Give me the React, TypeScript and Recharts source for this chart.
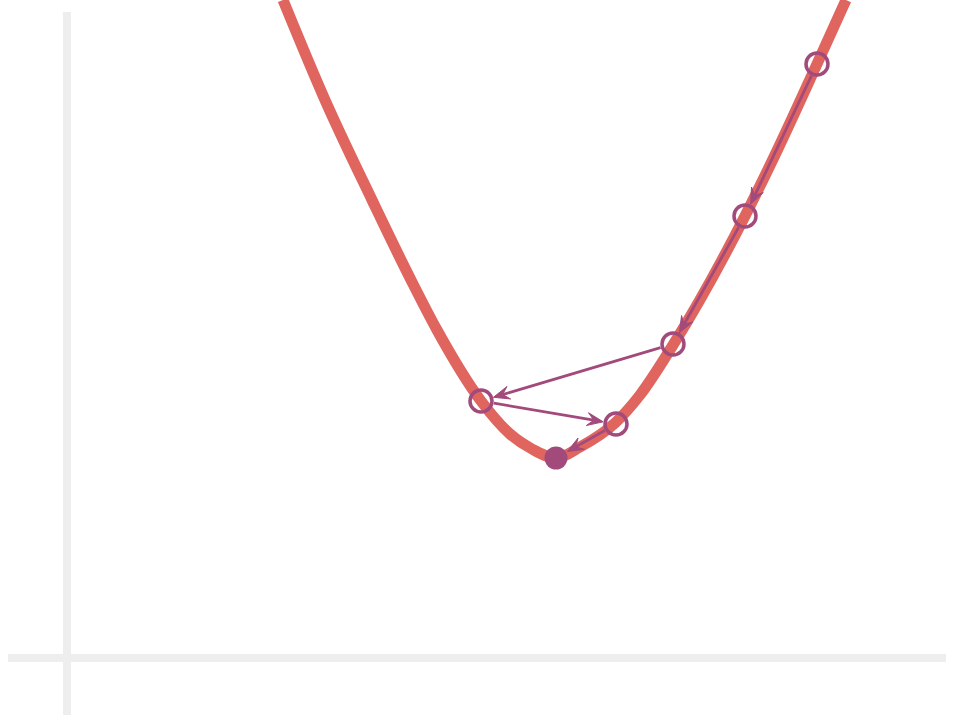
import { ComposedChart, Line, Scatter, XAxis, YAxis, ReferenceLine } from 'recharts';

// loss curve (x = parameter, y = loss)
const curveX = [2.16, 2.58, 3.05, 3.44, 3.70, 4.14, 4.43, 4.65, 4.89, 5.13, 5.48, 5.73, 6.06, 6.78, 7.07, 7.50, 7.79];
const curveY = [6.58, 5.58, 4.58, 3.78, 3.28, 2.57, 2.24, 2.09, 2.00, 2.11, 2.35, 2.63, 3.13, 4.42, 5.01, 5.94, 6.58];

// gradient descent steps, last one is the minimum
const stepX = [7.50, 6.78, 6.06, 4.14, 5.49, 4.89];
const stepY = [5.94, 4.42, 3.14, 2.57, 2.34, 2.00];

const xDomain = [-0.67, 8.93];
const yDomain = [-0.62, 6.58];

const CURVE = '#e0655f';
const STEP = '#a24a7c';
const AXIS = '#eeeeee';

const curve = curveX.map((x, i) => ({ x, y: curveY[i] }));
const steps = stepX.map((x, i) => ({ x, y: stepY[i] }));
const visited = steps.slice(0, -1);
const minimum = steps.slice(-1);

// eslint-disable-next-line @typescript-eslint/no-explicit-any
function Arrow(props: any) {
  const { x1, y1, x2, y2 } = props;
  const len = Math.hypot(x2 - x1, y2 - y1);
  const dx = (x2 - x1) / len;
  const dy = (y2 - y1) / len;
  const nx = -dy;
  const ny = dx;
  const gap = 13;
  const head = 16;
  const wing = 6.5;
  const sx = x1 + dx * gap;
  const sy = y1 + dy * gap;
  const tx = x2 - dx * gap;
  const ty = y2 - dy * gap;
  const bx = tx - dx * head;
  const by = ty - dy * head;
  const kx = tx - dx * head * 0.6;
  const ky = ty - dy * head * 0.6;
  return (
    <g>
      <line x1={sx} y1={sy} x2={kx} y2={ky} stroke={STEP} strokeWidth={2.8} />
      <path
        d={`M${tx},${ty} L${bx + nx * wing},${by + ny * wing} L${kx},${ky} L${bx - nx * wing},${by - ny * wing} Z`}
        fill={STEP}
        stroke={STEP}
        strokeWidth={1}
        strokeLinejoin="round"
      />
    </g>
  );
}

// eslint-disable-next-line @typescript-eslint/no-explicit-any
const OpenCircle = (p: any) => (
  <circle cx={p.cx} cy={p.cy} r={11} fill="none" stroke={STEP} strokeWidth={3.5} />
);

// eslint-disable-next-line @typescript-eslint/no-explicit-any
const Dot = (p: any) => <circle cx={p.cx} cy={p.cy} r={11.5} fill={STEP} />;

export default function App() {
  return (
    <div style={{ position: 'absolute', left: 0, top: 0, width: 960, height: 720, background: '#fff' }}>
      <ComposedChart width={960} height={720} margin={{ top: 0, right: 0, bottom: 0, left: 0 }}>
        <XAxis type="number" dataKey="x" domain={xDomain} allowDataOverflow hide />
        <YAxis type="number" dataKey="y" domain={yDomain} allowDataOverflow hide />

        <ReferenceLine
          segment={[{ x: 0, y: -0.57 }, { x: 0, y: 6.46 }]}
          stroke={AXIS}
          strokeWidth={8}
          ifOverflow="visible"
        />
        <ReferenceLine
          segment={[{ x: -0.59, y: 0 }, { x: 8.79, y: 0 }]}
          stroke={AXIS}
          strokeWidth={8}
          ifOverflow="visible"
        />

        <Line
          data={curve}
          dataKey="y"
          type="monotoneX"
          stroke={CURVE}
          strokeWidth={11}
          dot={false}
          activeDot={false}
          isAnimationActive={false}
        />

        {steps.slice(1).map((s, i) => (
          <ReferenceLine
            key={i}
            segment={[steps[i], s]}
            ifOverflow="visible"
            shape={<Arrow />}
          />
        ))}

        <Scatter data={visited} shape={<OpenCircle />} isAnimationActive={false} />
        <Scatter data={minimum} shape={<Dot />} isAnimationActive={false} />
      </ComposedChart>
    </div>
  );
}
